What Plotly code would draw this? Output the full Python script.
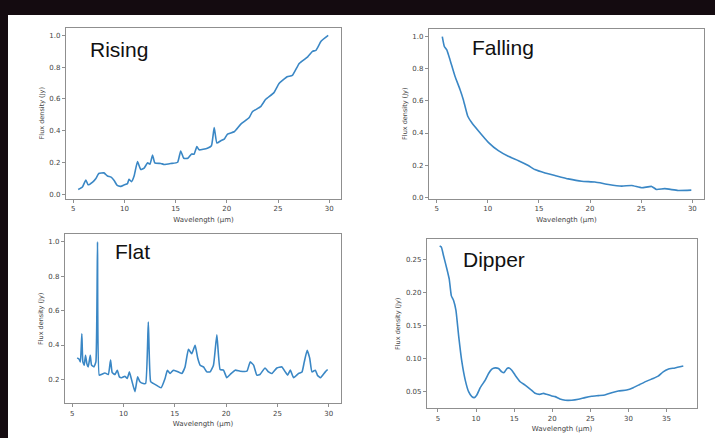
import plotly.graph_objects as go

W, H = 715, 438

# ---------------- data ----------------
rising_x = [5.49, 5.9, 6.24, 6.46, 6.9, 7.2, 7.5, 8.0, 8.35, 8.7, 9.0, 9.3, 9.65, 10.0, 10.3,
            10.45, 10.7, 10.95, 11.28, 11.6, 11.93, 12.26, 12.5, 12.75, 12.97, 13.56, 13.9,
            14.54, 15.2, 15.5, 15.8, 16.2, 16.56, 16.8, 17.08, 17.3, 18.1, 18.5, 18.77, 19.03,
            19.42, 19.75, 20.07, 20.72, 21.37, 22.19, 22.5, 23.3, 23.8, 24.6, 25.1, 25.9,
            26.4, 27.07, 27.9, 28.37, 28.7, 29.2, 29.9]
rising_y = [0.031, 0.046, 0.09, 0.06, 0.077, 0.098, 0.131, 0.135, 0.115, 0.108, 0.087, 0.056,
            0.05, 0.06, 0.067, 0.094, 0.08, 0.115, 0.206, 0.156, 0.165, 0.198, 0.19, 0.248,
            0.198, 0.194, 0.188, 0.194, 0.202, 0.273, 0.227, 0.227, 0.254, 0.252, 0.3, 0.28,
            0.29, 0.306, 0.42, 0.323, 0.3375, 0.348, 0.379, 0.394, 0.442, 0.483, 0.52, 0.552,
            0.598, 0.64, 0.698, 0.74, 0.748, 0.823, 0.865, 0.9, 0.906, 0.963, 1.0]

falling_x = [5.55, 5.75, 5.98, 6.3, 6.79, 7.28, 7.6, 8.03, 8.42, 9.07, 10.05, 11.03, 12.0,
             13.0, 13.96, 14.6, 15.6, 16.57, 17.87, 19.18, 20.48, 21.8, 23.1, 24.07, 25.05,
             26.02, 26.5, 27.3, 28.6, 29.9]
falling_y = [1.0, 0.938, 0.918, 0.856, 0.753, 0.671, 0.609, 0.506, 0.465, 0.414, 0.342, 0.29,
             0.255, 0.228, 0.198, 0.173, 0.152, 0.136, 0.115, 0.1, 0.095, 0.08, 0.07, 0.074,
             0.06, 0.068, 0.049, 0.054, 0.043, 0.045]

flat_x = [5.49, 5.68, 5.8, 5.94, 6.04, 6.17, 6.3, 6.43, 6.56, 6.76, 6.89, 7.12, 7.31, 7.47,
          7.64, 7.86, 8.19, 8.52, 8.74, 8.9, 9.17, 9.4, 9.6, 9.82, 10.14, 10.37, 10.57, 10.8,
          11.12, 11.38, 11.6, 11.93, 12.16, 12.42, 12.65, 12.9, 13.2, 13.66, 14.05, 14.28,
          14.54, 14.86, 15.19, 15.68, 16.0, 16.33, 16.65, 16.98, 17.24, 17.47, 17.8, 18.12,
          18.44, 18.77, 19.1, 19.42, 19.75, 20.07, 20.4, 20.89, 21.37, 22.03, 22.35, 22.68,
          23.0, 23.3, 23.8, 24.14, 24.47, 24.95, 25.44, 25.77, 26.0, 26.26, 26.58, 27.07,
          27.4, 27.62, 27.9, 28.15, 28.37, 28.7, 28.9, 29.2, 29.67, 29.9]
flat_y = [0.325, 0.317, 0.302, 0.465, 0.302, 0.283, 0.34, 0.292, 0.273, 0.34, 0.283, 0.273,
          0.302, 1.0, 0.225, 0.229, 0.238, 0.229, 0.313, 0.24, 0.229, 0.254, 0.215, 0.21,
          0.219, 0.206, 0.244, 0.196, 0.129, 0.215, 0.187, 0.177, 0.177, 0.533, 0.187, 0.177,
          0.167, 0.152, 0.206, 0.254, 0.235, 0.254, 0.248, 0.235, 0.273, 0.375, 0.35, 0.398,
          0.323, 0.283, 0.273, 0.244, 0.244, 0.283, 0.46, 0.258, 0.254, 0.21, 0.229, 0.254,
          0.248, 0.248, 0.302, 0.283, 0.225, 0.229, 0.267, 0.244, 0.235, 0.267, 0.273, 0.244,
          0.225, 0.254, 0.21, 0.235, 0.244, 0.302, 0.369, 0.323, 0.244, 0.254, 0.225, 0.21,
          0.244, 0.258]

dipper_x = [5.22, 5.44, 5.74, 6.18, 6.48, 6.75, 7.05, 7.36, 7.71, 8.14, 8.58, 9.02, 9.45,
            9.76, 10.1, 10.55, 11.2, 11.64, 12.07, 12.51, 12.95, 13.38, 13.69, 14.04, 14.34,
            14.69, 15.13, 15.79, 16.44, 17.1, 17.75, 18.41, 18.84, 19.28, 19.93, 20.37, 21.0,
            21.7, 22.55, 23.43, 24.3, 25.17, 26.05, 26.9, 27.8, 28.67, 29.76, 30.63, 31.5,
            32.4, 33.25, 33.9, 34.56, 35.2, 36.1, 37.2]
dipper_y = [0.2705, 0.269, 0.2555, 0.2355, 0.2205, 0.1955, 0.188, 0.173, 0.135, 0.095,
            0.0675, 0.05, 0.0425, 0.041, 0.045, 0.056, 0.0675, 0.0775, 0.084, 0.086, 0.085,
            0.08, 0.079, 0.085, 0.086, 0.0825, 0.075, 0.065, 0.06, 0.054, 0.0475, 0.046,
            0.0475, 0.046, 0.0435, 0.0425, 0.039, 0.037, 0.037, 0.0385, 0.041, 0.043, 0.044,
            0.045, 0.0485, 0.051, 0.0525, 0.056, 0.061, 0.066, 0.07, 0.0735, 0.08, 0.084,
            0.086, 0.089]

panel_labels = ["Rising", "Falling", "Flat", "Dipper"]
x_title = "Wavelength (μm)"
y_title = "Flux density (Jy)"

# ---------------- layout helpers ----------------
LINE = "#3a87c5"
FRAME = "#8f8f8f"
TICKC = "#444444"
DARK = "#140b10"

def dx(a, b):
    return [a / W, b / W]

def dy(top, bottom):
    return [1 - bottom / H, 1 - top / H]

panels = [
    dict(x=rising_x, y=rising_y, xd=dx(66, 341), yd=dy(28, 200), xr=[4.3, 31.15], yr=[-0.027, 1.048],
         yt=[0, 0.2, 0.4, 0.6, 0.8, 1.0], yf=".1f", xt=[5, 10, 15, 20, 25, 30],
         lab=(88, 50)),
    dict(x=falling_x, y=falling_y, xd=dx(429, 704), yd=dy(29, 200), xr=[4.25, 31.14], yr=[-0.008, 1.048],
         yt=[0, 0.2, 0.4, 0.6, 0.8, 1.0], yf=".1f", xt=[5, 10, 15, 20, 25, 30],
         lab=(470, 48)),
    dict(x=flat_x, y=flat_y, xd=dx(65, 341), yd=dy(236, 406), xr=[4.3, 31.2], yr=[0.062, 1.043],
         yt=[0.2, 0.4, 0.6, 0.8, 1.0], yf=".1f", xt=[5, 10, 15, 20, 25, 30],
         lab=(113, 253)),
    dict(x=dipper_x, y=dipper_y, xd=dx(427, 697), yd=dy(241, 411), xr=[3.56, 39.0], yr=[0.025, 0.2807],
         yt=[0.05, 0.10, 0.15, 0.20, 0.25], yf=".2f", xt=[5, 10, 15, 20, 25, 30, 35],
         lab=(461, 261)),
]

fig = go.Figure()
annotations = []
for i, p in enumerate(panels):
    n = i + 1
    xa = "x" if n == 1 else f"x{n}"
    ya = "y" if n == 1 else f"y{n}"
    fig.add_trace(go.Scatter(x=p["x"], y=p["y"], mode="lines", xaxis=xa, yaxis=ya,
                             line=dict(color=LINE, width=1.6, shape="spline", smoothing=0.4),
                             showlegend=False, hoverinfo="skip"))
    common = dict(showline=True, mirror=True, linecolor=FRAME, linewidth=1.2,
                  ticks="outside", ticklen=3, tickcolor=FRAME, tickwidth=1,
                  showgrid=False, zeroline=False,
                  tickfont=dict(family="DejaVu Sans", size=7, color=TICKC))
    fig.layout[f"xaxis{'' if n == 1 else n}"] = dict(
        domain=p["xd"], range=p["xr"], tickvals=p["xt"], anchor=ya,
        title=dict(text=x_title, font=dict(family="DejaVu Sans", size=7, color=TICKC), standoff=4),
        **common)
    fig.layout[f"yaxis{'' if n == 1 else n}"] = dict(
        domain=p["yd"], range=p["yr"], tickvals=p["yt"], tickformat=p["yf"], anchor=xa,
        title=dict(text=y_title, font=dict(family="DejaVu Sans", size=6.5, color=TICKC), standoff=4),
        **common)
    annotations.append(dict(text=panel_labels[i], x=p["lab"][0] / W, y=1 - p["lab"][1] / H,
                            xref="paper", yref="paper", xanchor="left", yanchor="middle",
                            showarrow=False,
                            font=dict(family="Liberation Sans", size=21, color="#111111")))

fig.update_layout(
    width=W, height=H,
    margin=dict(l=0, r=0, t=0, b=0),
    paper_bgcolor="white",
    plot_bgcolor="white",
    annotations=annotations,
    shapes=[
        dict(type="rect", xref="paper", yref="paper", x0=-0.05, x1=1.05,
             y0=1 - 15 / H, y1=1.05, fillcolor=DARK, line=dict(width=0), layer="below"),
        dict(type="rect", xref="paper", yref="paper", x0=-0.05, x1=8 / W,
             y0=-0.05, y1=1.05, fillcolor=DARK, line=dict(width=0), layer="below"),
    ],
)

fig.write_html("out.html")
